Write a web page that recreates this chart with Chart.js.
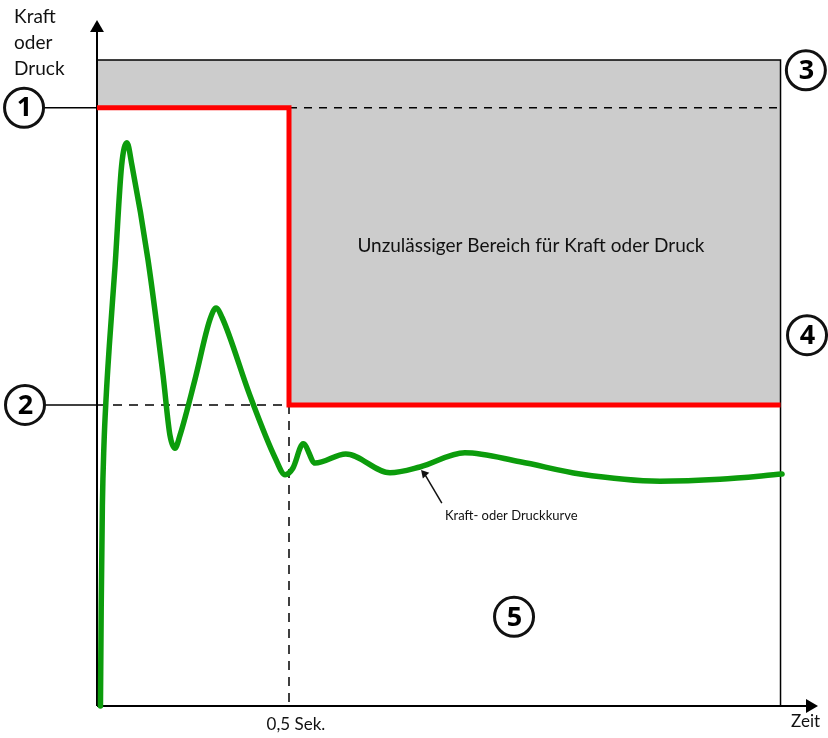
<!DOCTYPE html>
<html>
<head>
  <meta charset="utf-8">
  <title>Kraft- oder Druckkurve mit unzulässigem Bereich</title>
  <script src="https://cdn.jsdelivr.net/npm/chart.js"></script>
  <style>
    body {
      margin: 0;
      background: #fff;
    }
    .chart-box {
      width: 828px;
      height: 738px;
    }
  </style>
</head>
<body>
  <div class="chart-box">
    <canvas id="pressChart"></canvas>
  </div>

  <script>
    // Zeitachse in Sekunden, Kraft/Druck in willkürlichen Einheiten (100 = Oberkante grauer Bereich)
    const tSwitch = 0.5;     // Umschaltpunkt
    const tEnd = 1.78;       // Ende Überwachungsfenster
    const levelTop = 100;    // Oberkante
    const level1 = 92.6;     // Grenze (1) bis 0,5 s
    const level2 = 46.6;     // Grenze (2) ab 0,5 s

    // Kraft- oder Druckkurve
    const curveTime = [0.009, 0.011, 0.014, 0.018, 0.024, 0.032, 0.047, 0.064, 0.078,
                       0.091, 0.133, 0.172, 0.190, 0.203, 0.216, 0.255, 0.294, 0.310, 0.326,
                       0.398, 0.464, 0.490, 0.510, 0.537, 0.568, 0.648, 0.763, 0.841, 0.958,
                       1.102, 1.258, 1.466, 1.622, 1.784];
    const curveValue = [0, 15.5, 31.0, 40.2, 48.0, 55.7, 68.1, 83.6, 87.2,
                        83.7, 69.0, 51.2, 41.9, 39.9, 41.9, 50.5, 59.8, 61.6, 60.1,
                        48.1, 38.4, 35.8, 36.8, 40.6, 37.6, 39.0, 36.1, 37.0, 39.2,
                        37.8, 35.9, 34.8, 35.1, 35.9];

    // Texte
    const yTitle = ['Kraft', 'oder', 'Druck'];
    const xTitle = 'Zeit';
    const tickLabel = '0,5 Sek.';
    const zoneLabel = 'Unzulässiger Bereich für Kraft oder Druck';
    const curveLabel = 'Kraft- oder Druckkurve';
    const markerNumbers = ['1', '2', '3', '4', '5'];

    // Lage der nummerierten Kreise (in Achseneinheiten)
    const markerAt = [
      { x: -0.19, y: level1 },
      { x: -0.1875, y: level2 },
      { x: 1.846, y: 98.4 },
      { x: 1.849, y: 57.4 },
      { x: 1.086, y: 13.8 }
    ];

    const xy = (xs, ys) => xs.map((x, i) => ({ x: x, y: ys[i] }));
    const stepLimit = [
      { x: 0, y: level1 }, { x: tSwitch, y: level1 },
      { x: tSwitch, y: level2 }, { x: tEnd, y: level2 }
    ];

    const lineDefaults = {
      showLine: true,
      pointRadius: 0,
      borderColor: '#000',
      borderWidth: 1.5,
      fill: false
    };

    // Texte über die Skalen der Grafik platzieren
    const textPlugin = {
      id: 'texts',
      afterDatasetsDraw(chart) {
        const ctx = chart.ctx;
        const sx = chart.scales.x, sy = chart.scales.y;
        const put = (text, x, y, font, align) => {
          ctx.font = font;
          ctx.textAlign = align;
          ctx.textBaseline = 'alphabetic';
          ctx.fillText(text, sx.getPixelForValue(x), sy.getPixelForValue(y));
        };
        ctx.save();
        ctx.fillStyle = '#111';
        yTitle.forEach((t, i) => put(t, -0.216, 105.7 - i * 4.0, '19px Lato', 'left'));
        put(xTitle, 1.883, -3.25, '17px Lato', 'right');
        put(tickLabel, tSwitch + 0.018, -3.7, '17px Lato', 'center');
        put(zoneLabel, 1.13, 70.3, '19px Lato', 'center');
        put(curveLabel, 0.906, 28.8, '13px Lato', 'left');

        ctx.fillStyle = '#000';
        ctx.textBaseline = 'middle';
        ctx.textAlign = 'center';
        ctx.font = 'bold 27px "Open Sans", "DejaVu Sans", sans-serif';
        markerNumbers.forEach((n, i) => {
          ctx.fillText(n, sx.getPixelForValue(markerAt[i].x) + 0.5,
                       sy.getPixelForValue(markerAt[i].y) + 1);
        });
        ctx.restore();
      }
    };

    const ctxPress = document.getElementById('pressChart').getContext('2d');
    const pressChart = new Chart(ctxPress, {
      type: 'scatter',
      data: {
        datasets: [
          // grauer unzulässiger Bereich
          {
            ...lineDefaults,
            data: stepLimit,
            borderWidth: 0,
            backgroundColor: '#cccccc',
            fill: { value: levelTop },
            order: 20
          },
          // gestrichelte Hilfslinien
          {
            ...lineDefaults,
            data: [{ x: tSwitch, y: level1 }, { x: tEnd, y: level1 }],
            borderDash: [8, 7],
            order: 19
          },
          {
            ...lineDefaults,
            data: [{ x: 0, y: level2 }, { x: tSwitch, y: level2 }, { x: tSwitch, y: 0 }],
            borderDash: [9, 7],
            order: 18
          },
          // Rahmen oben und rechts
          {
            ...lineDefaults,
            data: [{ x: 0, y: levelTop }, { x: tEnd, y: levelTop }, { x: tEnd, y: 0 }],
            order: 17
          },
          // Achsen
          {
            ...lineDefaults,
            data: [{ x: 0, y: 0 }, { x: 0, y: 105.9 }],
            borderWidth: 2,
            order: 16
          },
          {
            ...lineDefaults,
            data: [{ x: 0, y: 0 }, { x: 1.87, y: 0 }],
            borderWidth: 2,
            order: 16
          },
          // Pfeilspitzen der Achsen
          {
            data: [{ x: 0, y: 104.95 }],
            pointStyle: 'triangle',
            pointRadius: 8,
            rotation: 0,
            backgroundColor: '#000',
            borderWidth: 0,
            order: 15
          },
          {
            data: [{ x: 1.8568, y: 0 }],
            pointStyle: 'triangle',
            pointRadius: 8,
            rotation: 90,
            backgroundColor: '#000',
            borderWidth: 0,
            order: 15
          },
          // rote Grenzlinie
          {
            ...lineDefaults,
            data: stepLimit,
            borderColor: '#ff0000',
            borderWidth: 5,
            borderJoinStyle: 'miter',
            order: 14
          },
          // grüne Kraft-/Druckkurve
          {
            ...lineDefaults,
            data: xy(curveTime, curveValue),
            borderColor: '#0c9c0c',
            borderWidth: 5.5,
            cubicInterpolationMode: 'monotone',
            borderCapStyle: 'round',
            borderJoinStyle: 'round',
            order: 13
          },
          // Hinweispfeil zur Kurve
          {
            ...lineDefaults,
            data: [{ x: 0.898, y: 31.4 }, { x: 0.8526, y: 35.96 }],
            borderColor: '#111',
            borderWidth: 1.5,
            order: 12
          },
          {
            data: [{ x: 0.8526, y: 35.96 }],
            pointStyle: 'triangle',
            pointRadius: 5,
            rotation: -42,
            backgroundColor: '#111',
            borderWidth: 0,
            order: 12
          },
          // Verbindungslinien zu den Kreisen 1 und 2
          {
            ...lineDefaults,
            data: [{ x: markerAt[0].x, y: level1 }, { x: 0, y: level1 }],
            order: 11
          },
          {
            ...lineDefaults,
            data: [{ x: markerAt[1].x, y: level2 }, { x: 0, y: level2 }],
            order: 11
          },
          // nummerierte Kreise
          {
            data: markerAt,
            pointStyle: 'circle',
            pointRadius: 19.5,
            backgroundColor: '#fff',
            borderColor: '#111',
            borderWidth: 3,
            order: 10
          }
        ]
      },
      options: {
        responsive: true,
        maintainAspectRatio: false,
        animation: false,
        events: [],
        layout: { padding: 0, autoPadding: false },
        plugins: {
          legend: { display: false },
          title: { display: false },
          tooltip: { enabled: false }
        },
        scales: {
          x: {
            type: 'linear',
            display: false,
            min: -97 / 384,
            max: 731 / 384
          },
          y: {
            type: 'linear',
            display: false,
            min: -32 / 6.46,
            max: 706 / 6.46
          }
        }
      },
      plugins: [textPlugin]
    });
  </script>
</body>
</html>
